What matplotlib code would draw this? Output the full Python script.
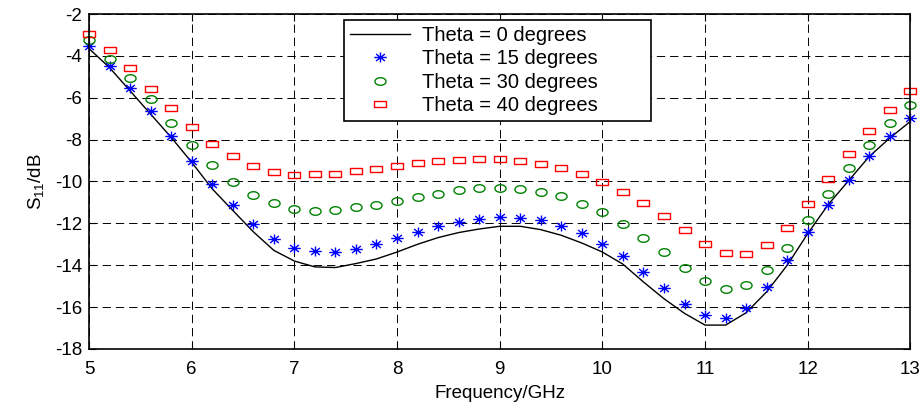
import matplotlib
matplotlib.use("Agg")
import matplotlib.pyplot as plt
from matplotlib.path import Path
import numpy as np

plt.rcParams['font.family'] = ['Liberation Sans', 'DejaVu Sans']
plt.rcParams['mathtext.fontset'] = 'custom'
plt.rcParams['mathtext.rm'] = 'Liberation Sans'
plt.rcParams['mathtext.it'] = 'Liberation Sans:italic'
plt.rcParams['axes.unicode_minus'] = False
plt.rcParams['lines.scale_dashes'] = False

freq = [5.0, 5.2, 5.4, 5.6, 5.8, 6.0, 6.2, 6.4, 6.6, 6.8, 7.0, 7.2, 7.4, 7.6, 7.8,
        8.0, 8.2, 8.4, 8.6, 8.8, 9.0, 9.2, 9.4, 9.6, 9.8, 10.0, 10.2, 10.4, 10.6, 10.8,
        11.0, 11.2, 11.4, 11.6, 11.8, 12.0, 12.2, 12.4, 12.6, 12.8, 13.0]

theta0 = [-3.65, -4.56, -5.67, -6.78, -7.89, -9.08, -10.35, -11.38, -12.4, -13.29,
          -13.8, -14.08, -14.11, -13.92, -13.7, -13.37, -13.0, -12.68, -12.44, -12.27,
          -12.14, -12.14, -12.3, -12.57, -12.94, -13.37, -13.95, -14.8, -15.6, -16.3,
          -16.86, -16.86, -16.27, -15.27, -14.0, -12.49, -11.1, -9.95, -8.8, -7.92, -7.13]

theta15 = [-3.52, -4.48, -5.54, -6.65, -7.84, -9.03, -10.14, -11.14, -12.02, -12.73,
           -13.17, -13.33, -13.37, -13.24, -12.99, -12.7, -12.43, -12.14, -11.95, -11.81,
           -11.71, -11.76, -11.83, -12.11, -12.46, -12.97, -13.56, -14.3, -15.08, -15.87,
           -16.38, -16.51, -16.03, -15.03, -13.76, -12.41, -11.11, -9.92, -8.79, -7.81, -6.97]

theta30 = [-3.25, -4.13, -5.08, -6.08, -7.19, -8.24, -9.22, -10.03, -10.63, -11.03,
           -11.3, -11.4, -11.35, -11.24, -11.11, -10.94, -10.76, -10.62, -10.41, -10.32,
           -10.32, -10.37, -10.51, -10.71, -11.06, -11.46, -12.04, -12.68, -13.37, -14.13,
           -14.76, -15.13, -14.95, -14.24, -13.17, -11.86, -10.59, -9.35, -8.24, -7.22, -6.35]

theta40 = [-2.94, -3.73, -4.6, -5.57, -6.48, -7.4, -8.2, -8.8, -9.24, -9.54,
           -9.67, -9.65, -9.62, -9.5, -9.4, -9.24, -9.14, -9.0, -8.97, -8.94,
           -8.94, -9.02, -9.16, -9.37, -9.63, -10.02, -10.51, -11.03, -11.67, -12.33,
           -13.0, -13.41, -13.46, -13.03, -12.2, -11.06, -9.9, -8.67, -7.57, -6.57, -5.7]

labels = ['Theta = 0 degrees', 'Theta = 15 degrees', 'Theta = 30 degrees', 'Theta = 40 degrees']
xticks = [5, 6, 7, 8, 9, 10, 11, 12, 13]
yticks = [-18, -16, -14, -12, -10, -8, -6, -4, -2]

# stretched marker shapes (reference is horizontally stretched)
t = np.linspace(0, 2 * np.pi, 41)
ellipse = Path(np.column_stack([np.cos(t), 0.68 * np.sin(t)]), closed=True)
rect = Path([(-1, -0.62), (1, -0.62), (1, 0.62), (-1, 0.62), (-1, -0.62)], closed=True)
ast_verts = [(-1, 0), (1, 0), (0, -0.8), (0, 0.8), (-0.7, -0.56), (0.7, 0.56), (-0.7, 0.56), (0.7, -0.56)]
ast_codes = [Path.MOVETO, Path.LINETO] * 4
asterisk = Path(ast_verts, ast_codes)

fig = plt.figure(figsize=(9.24, 4.12), dpi=100)
ax = fig.add_axes([0.0963, 0.153, 0.889, 0.813])

ax.plot(freq, theta0, color='black', lw=1.0, label=labels[0])
ax.plot(freq, theta15, ls='none', marker=asterisk, ms=9, mec='blue', mfc='none', mew=1.0,
        label=labels[1], clip_on=False)
ax.plot(freq, theta30, ls='none', marker=ellipse, ms=8, mec='green', mfc='none', mew=1.0,
        label=labels[2], clip_on=False)
ax.plot(freq, theta40, ls='none', marker=rect, ms=8, mec='red', mfc='none', mew=1.0,
        label=labels[3], clip_on=False)

ax.set_xlim(5, 13)
ax.set_ylim(-18, -2)
ax.set_xticks(xticks)
ax.set_yticks(yticks)
ax.tick_params(direction='in', top=True, right=True, labelsize=13.5, length=5, width=0.8)
ax.tick_params(axis='x', pad=9)
ax.tick_params(axis='y', pad=5)
ax.grid(True, color='black', linestyle=(0, (6, 3.5)), linewidth=0.7)
for s in ax.spines.values():
    s.set_linewidth(1.2)

ax.set_xlabel('Frequency/GHz', fontsize=13.5, labelpad=5)
ax.set_ylabel(r'$\mathrm{S}_{11}$/dB', fontsize=13.5, labelpad=6)

leg = ax.legend(loc='upper left', bbox_to_anchor=(0.31, 0.678, 0.374, 0.305), mode='expand',
                fontsize=14.5, frameon=True,
                fancybox=False, edgecolor='black', framealpha=1, borderpad=0.3,
                labelspacing=0.22, handlelength=3.0, handletextpad=0.6, borderaxespad=0)
leg.get_frame().set_linewidth(1.2)

fig.savefig('out.png', dpi=100)
